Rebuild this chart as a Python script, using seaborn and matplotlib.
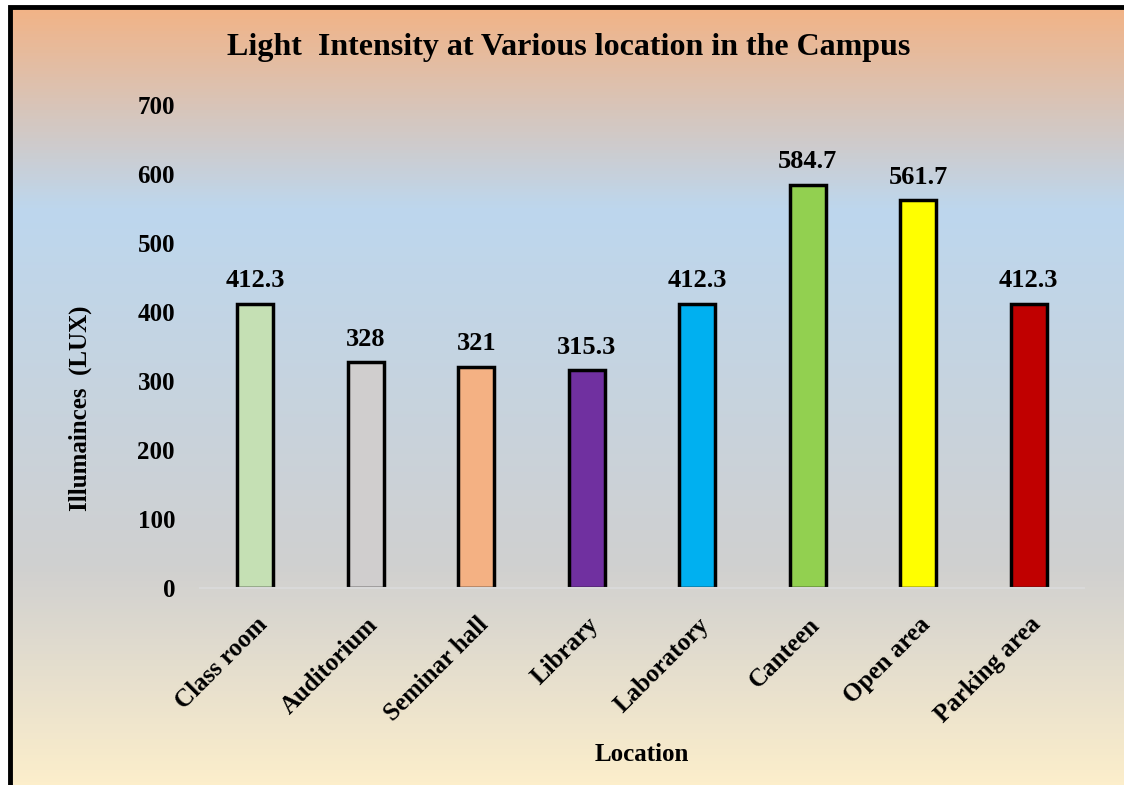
import numpy as np
import pandas as pd
import matplotlib
matplotlib.use("Agg")
import matplotlib.pyplot as plt
from matplotlib.colors import LinearSegmentedColormap
from matplotlib.patches import Rectangle
import seaborn as sns

locations = ["Class room", "Auditorium", "Seminar hall", "Library",
             "Laboratory", "Canteen", "Open area", "Parking area"]
lux = [412.3, 328, 321, 315.3, 412.3, 584.7, 561.7, 412.3]
labels = ["412.3", "328", "321", "315.3", "412.3", "584.7", "561.7", "412.3"]
bar_colors = ["#C5E0B4", "#D0CECE", "#F4B183", "#7030A0",
              "#00B0F0", "#92D050", "#FFFF00", "#C00000"]
yticks = [0, 100, 200, 300, 400, 500, 600, 700]

sns.set_theme(style="white")
plt.rcParams['font.family'] = ['Liberation Serif', 'DejaVu Serif']
plt.rcParams['font.weight'] = 'bold'
plt.rcParams['text.color'] = 'black'
plt.rcParams['axes.labelcolor'] = 'black'
plt.rcParams['xtick.color'] = 'black'
plt.rcParams['ytick.color'] = 'black'

W, H = 1124, 785
fig = plt.figure(figsize=(W / 100, H / 100), dpi=100)
fig.patch.set_facecolor("white")

# gradient background (inside the frame)
bx0, by_top = 10 / W, 1 - 7 / H
bg = fig.add_axes([bx0, 0, 1 - bx0, by_top], zorder=-10)
cmap = LinearSegmentedColormap.from_list(
    "bg", [(0.0, "#F2B386"), (0.26, "#BDD7EE"), (0.72, "#D0D0D0"), (1.0, "#FCEECB")])
grad = np.linspace(0, 1, 256).reshape(-1, 1)
bg.imshow(grad, aspect="auto", cmap=cmap, extent=[0, 1, 0, 1], origin="upper")
bg.set_axis_off()

# frame
fig.patches.append(Rectangle((bx0, -0.05), 1.2, by_top + 0.05, transform=fig.transFigure,
                             fill=False, edgecolor="black", linewidth=3.5, zorder=5))

ax = fig.add_axes([200 / W, 1 - 588 / H, 884 / W, (588 - 105) / H])
ax.patch.set_alpha(0)

df = pd.DataFrame({"Location": locations, "Lux": lux})
sns.barplot(data=df, x="Location", y="Lux", hue="Location", palette=bar_colors,
            legend=False, width=0.33, edgecolor="black", linewidth=2.5, ax=ax,
            saturation=1)

ax.set_ylim(0, 700)
ax.set_xlim(-0.5, len(locations) - 0.5)
ax.set_yticks(yticks)
ax.set_yticklabels([str(t) for t in yticks], fontsize=18, fontweight="bold")
ax.tick_params(axis="y", length=0, pad=18)
ax.tick_params(axis="x", length=0, pad=18)
ax.set_xticks(range(len(locations)))
ax.set_xticklabels(locations, rotation=45, ha="right", rotation_mode="anchor",
                   fontsize=18, fontweight="bold")

for s in ["top", "right", "left"]:
    ax.spines[s].set_visible(False)
ax.spines["bottom"].set_color("#D9D9D9")
ax.spines["bottom"].set_linewidth(1.5)

for i, (v, t) in enumerate(zip(lux, labels)):
    ax.annotate(t, (i, v), xytext=(0, 8), textcoords="offset points",
                ha="center", va="bottom", fontsize=19, fontweight="bold")

ax.set_xlabel("Location", fontsize=18, fontweight="bold")
ax.xaxis.set_label_coords(442 / 884, -(755 - 588) / 483)
ax.xaxis.label.set_va("center")
ax.set_ylabel("Illumainces  (LUX)", fontsize=18, fontweight="bold")
ax.yaxis.set_label_coords(-120 / 884, (588 - 408) / 483)
ax.yaxis.label.set_va("center")

fig.text(569 / W, 1 - 48 / H, "Light  Intensity at Various location in the Campus",
         ha="center", va="center", fontsize=23, fontweight="bold")

fig.savefig("out.png", dpi=100)
